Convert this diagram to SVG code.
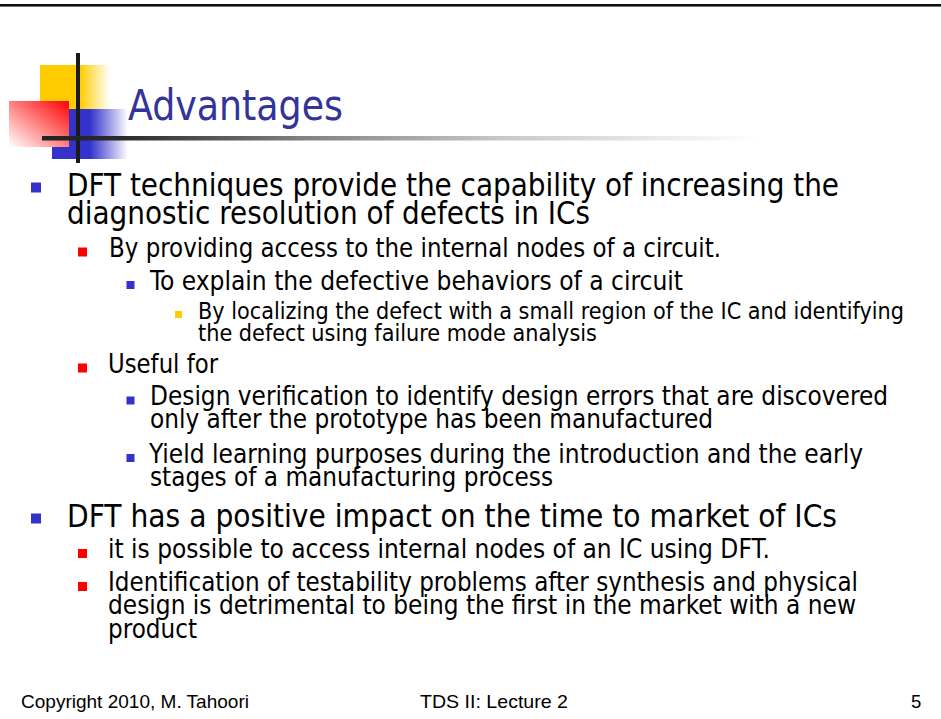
<svg xmlns="http://www.w3.org/2000/svg" width="941" height="719" viewBox="0 0 941 719">
<defs>
<style>
text{font-family:"DejaVu Sans Condensed","DejaVu Sans",sans-serif;fill:#000}
.l1{font-size:31.4px}
.l2{font-size:26.2px}
.l3{font-size:26.5px}
.l4{font-size:23.6px}
.title{font-size:42.5px;fill:#333399}
.foot{font-family:"Liberation Sans",Arial,sans-serif;font-size:18.5px}
.b1{fill:#3333CC}
.b2{fill:#FF0000}
.b3{fill:#3333CC}
.b4{fill:#FFCC00}
</style>
<linearGradient id="gy" x1="0" y1="0" x2="1" y2="0">
<stop offset="0" stop-color="#FFCC00"/>
<stop offset="0.57" stop-color="#FFCC00"/>
<stop offset="1" stop-color="#FFFFFF"/>
</linearGradient>
<linearGradient id="gb" x1="0" y1="0" x2="1" y2="0">
<stop offset="0" stop-color="#3333CC"/>
<stop offset="0.5" stop-color="#3333CC"/>
<stop offset="1" stop-color="#FFFFFF"/>
</linearGradient>
<linearGradient id="gr" x1="1" y1="0" x2="0" y2="1">
<stop offset="0" stop-color="#FF0000"/>
<stop offset="0.5" stop-color="#FF8080"/>
<stop offset="1" stop-color="#FFFFFF"/>
</linearGradient>
<linearGradient id="gl" gradientUnits="userSpaceOnUse" x1="42" y1="0" x2="760" y2="0">
<stop offset="0" stop-color="#222222"/>
<stop offset="0.11" stop-color="#2a2a2a"/>
<stop offset="0.36" stop-color="#808080"/>
<stop offset="0.64" stop-color="#c8c8c8"/>
<stop offset="1" stop-color="#FFFFFF"/>
</linearGradient>
</defs>
<rect x="0" y="0" width="941" height="719" fill="#FFFFFF"/>
<rect id="topline" x="0" y="4" width="941" height="2.6" fill="#111111"/>
<g id="logo">
<rect x="40" y="65" width="70" height="44" fill="url(#gy)"/>
<rect x="52" y="109" width="76" height="50" fill="url(#gb)"/>
<rect x="9" y="101" width="60" height="46" fill="url(#gr)"/>
<rect x="76" y="53" width="4" height="110" fill="#1a1a1a"/>
<rect x="42" y="136" width="718" height="4.5" fill="url(#gl)"/>
</g>
<g id="title">
<text class="title" x="128" y="120" textLength="215" lengthAdjust="spacingAndGlyphs">Advantages</text>
</g>
<g id="bullets">
<rect class="b1" x="31" y="182.5" width="10" height="10"/>
<rect class="b2" x="78" y="247.5" width="9" height="9"/>
<rect class="b3" x="126.5" y="281" width="8" height="8"/>
<rect class="b4" x="175" y="311" width="7" height="7"/>
<rect class="b2" x="78" y="363.5" width="9" height="9"/>
<rect class="b3" x="126.5" y="396.5" width="8" height="8"/>
<rect class="b3" x="126.5" y="454" width="8" height="8"/>
<rect class="b1" x="31" y="513.5" width="10" height="10"/>
<rect class="b2" x="78" y="549" width="9" height="9"/>
<rect class="b2" x="78" y="582" width="9" height="9"/>
</g>
<g id="body">
<text class="l1" x="67" y="196" textLength="772" lengthAdjust="spacingAndGlyphs">DFT techniques provide the capability of increasing the</text>
<text class="l1" x="67" y="224" textLength="523" lengthAdjust="spacingAndGlyphs">diagnostic resolution of defects in ICs</text>
<text class="l2" x="109" y="257" textLength="612" lengthAdjust="spacingAndGlyphs">By providing access to the internal nodes of a circuit.</text>
<text class="l3" x="150" y="290" textLength="533" lengthAdjust="spacingAndGlyphs">To explain the defective behaviors of a circuit</text>
<text class="l4" x="198" y="319" textLength="706" lengthAdjust="spacingAndGlyphs">By localizing the defect with a small region of the IC and identifying</text>
<text class="l4" x="198" y="341" textLength="399" lengthAdjust="spacingAndGlyphs">the defect using failure mode analysis</text>
<text class="l2" x="108" y="373" textLength="110" lengthAdjust="spacingAndGlyphs">Useful for</text>
<text class="l3" x="150" y="405" textLength="738" lengthAdjust="spacingAndGlyphs">Design verification to identify design errors that are discovered</text>
<text class="l3" x="150" y="428" textLength="563" lengthAdjust="spacingAndGlyphs">only after the prototype has been manufactured</text>
<text class="l3" x="149" y="463" textLength="714" lengthAdjust="spacingAndGlyphs">Yield learning purposes during the introduction and the early</text>
<text class="l3" x="150" y="486" textLength="403" lengthAdjust="spacingAndGlyphs">stages of a manufacturing process</text>
<text class="l1" x="67" y="527" textLength="770" lengthAdjust="spacingAndGlyphs">DFT has a positive impact on the time to market of ICs</text>
<text class="l2" x="108" y="558" textLength="662" lengthAdjust="spacingAndGlyphs">it is possible to access internal nodes of an IC using DFT.</text>
<text class="l2" x="108" y="591" textLength="750" lengthAdjust="spacingAndGlyphs">Identification of testability problems after synthesis and physical</text>
<text class="l2" x="108" y="614" textLength="748" lengthAdjust="spacingAndGlyphs">design is detrimental to being the first in the market with a new</text>
<text class="l2" x="108" y="638" textLength="89" lengthAdjust="spacingAndGlyphs">product</text>
</g>
<g id="footer">
<text class="foot" x="21" y="708" textLength="228" lengthAdjust="spacingAndGlyphs">Copyright 2010, M. Tahoori</text>
<text class="foot" x="420" y="708" textLength="148" lengthAdjust="spacingAndGlyphs">TDS II: Lecture 2</text>
<text class="foot" x="911" y="708">5</text>
</g>
</svg>
